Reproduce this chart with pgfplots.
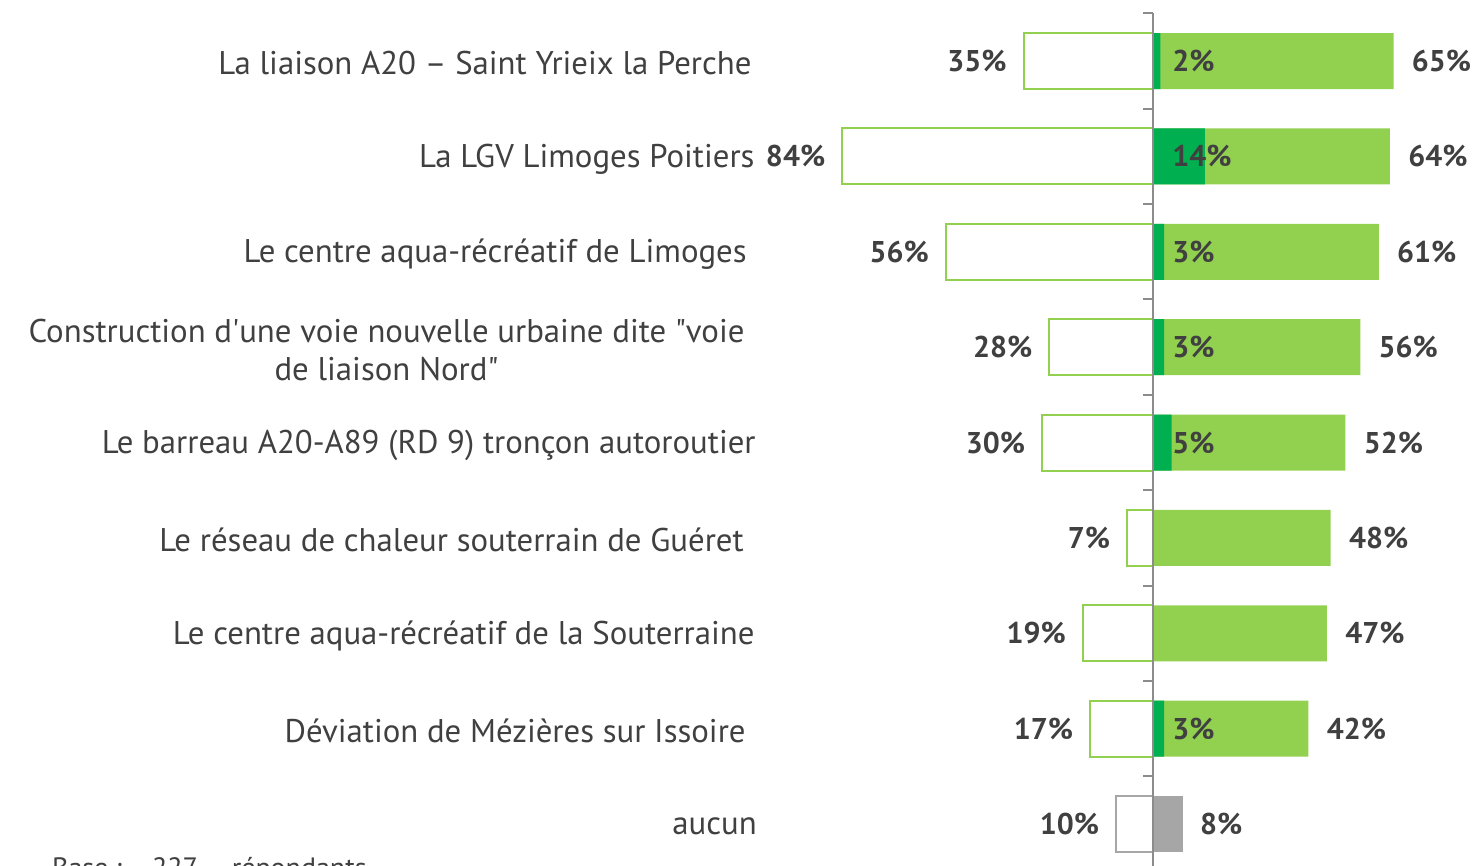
\documentclass[border=0pt]{standalone}
\usepackage{fontspec}
\setmainfont{PT Sans}
\usepackage{pgfplots}
\pgfplotsset{compat=1.18}
\definecolor{lgreen}{HTML}{92D050}
\definecolor{dgreen}{HTML}{00B050}
\definecolor{agray}{HTML}{A6A6A6}
\definecolor{axgray}{HTML}{8C8C8C}
\definecolor{txt}{HTML}{404040}
\begin{document}
\begin{tikzpicture}
\begin{axis}[
  scale only axis, width=736pt, height=433pt,
  xmin=-311.6, xmax=86.2, ymin=-0.64, ymax=8.44, y dir=reverse,
  hide axis, clip=false,
  every node near coord/.append style={font=\bfseries\fontsize{15}{18}\selectfont, text=txt, inner sep=0pt},
]
% left bars (white, outlined)
\addplot[xbar, bar width=0.587, bar shift=0pt, draw=lgreen, fill=white, line width=1pt,
  point meta=explicit symbolic, nodes near coords={\pgfplotspointmeta\%},
  nodes near coords style={anchor=east, xshift=-8pt}]
  coordinates {(-35,0)[35] (-84,1)[84] (-56,2)[56] (-28,3)[28] (-30,4)[30] (-7,5)[7] (-19,6)[19] (-17,7)[17]};
\addplot[xbar, bar width=0.587, bar shift=0pt, draw=agray, fill=white, line width=1pt,
  point meta=explicit symbolic, nodes near coords={\pgfplotspointmeta\%},
  nodes near coords style={anchor=east, xshift=-8pt}]
  coordinates {(-10,8)[10]};
% right bars
\addplot[xbar, bar width=0.587, bar shift=0pt, draw=none, fill=lgreen,
  point meta=explicit symbolic, nodes near coords={\pgfplotspointmeta\%},
  nodes near coords style={anchor=west, xshift=9pt}]
  coordinates {(65,0)[65] (64,1)[64] (61,2)[61] (56,3)[56] (52,4)[52] (48,5)[48] (47,6)[47] (42,7)[42]};
\addplot[xbar, bar width=0.587, bar shift=0pt, draw=none, fill=agray,
  point meta=explicit symbolic, nodes near coords={\pgfplotspointmeta\%},
  nodes near coords style={anchor=west, xshift=8.5pt}]
  coordinates {(8,8)[8]};
% dark green bars
\addplot[xbar, bar width=0.587, bar shift=0pt, draw=none, fill=dgreen]
  coordinates {(2,0) (14,1) (3,2) (3,3) (5,4) (3,7)};
% dark green labels
\addplot[draw=none, mark=none, point meta=explicit symbolic,
  nodes near coords={\pgfplotspointmeta\%}, nodes near coords style={anchor=west}]
  coordinates {(5.1,0)[2] (5.1,1)[14] (5.1,2)[3] (5.1,3)[3] (5.1,4)[5] (5.1,7)[3]};
% axis line and ticks
\draw[axgray, line width=1pt] (axis cs:0,-0.5) -- (axis cs:0,8.44);
\pgfplotsinvokeforeach{-0.5,0.5,1.5,2.5,3.5,4.5,5.5,6.5,7.5}{
  \draw[axgray, line width=1pt] (axis cs:0,#1) -- (axis cs:-2.7,#1);
}
% category labels
\begin{scope}[every node/.style={anchor=east, text=txt, font=\fontsize{16.4}{19}\selectfont, align=center, inner sep=0pt, yshift=-1.2pt}]
\node at (axis cs:-108.4,0) {La liaison A20 – Saint Yrieix la Perche};
\node at (axis cs:-107.6,1) {La LGV Limoges Poitiers};
\node at (axis cs:-109.7,2) {Le centre aqua-récréatif de Limoges};
\node at (axis cs:-110.3,3) {Construction d\textquotesingle une voie nouvelle urbaine dite \textquotedbl voie\\de liaison Nord\textquotedbl};
\node at (axis cs:-107.3,4) {Le barreau A20-A89 (RD 9) tronçon autoroutier};
\node at (axis cs:-110.5,5) {Le réseau de chaleur souterrain de Guéret};
\node at (axis cs:-107.6,6) {Le centre aqua-récréatif de la Souterraine};
\node at (axis cs:-110.0,7) {Déviation de Mézières sur Issoire};
\node at (axis cs:-107.0,8) {aucun};
\end{scope}
\node[anchor=base west, inner sep=0pt, text=txt, font=\fontsize{14}{17}\selectfont] at (axis cs:-297.6,8.56) {Base :\hspace{15pt}227\hspace{17pt}répondants};
\end{axis}
\pgfresetboundingbox
\path[use as bounding box] (current axis.south west) rectangle (current axis.north east);
\end{tikzpicture}
\end{document}
